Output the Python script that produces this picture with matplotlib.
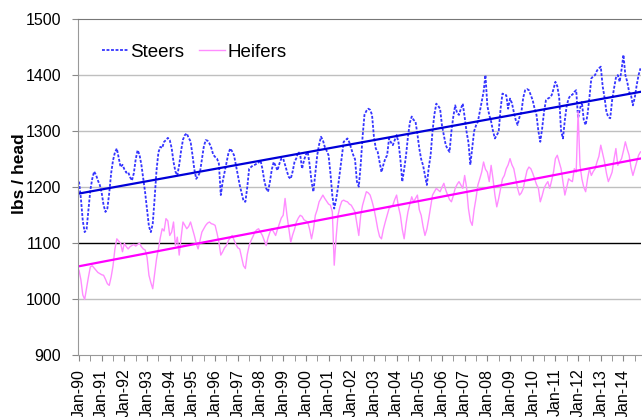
import numpy as np
import matplotlib
matplotlib.use('Agg')
import matplotlib.pyplot as plt

plt.rcParams['font.family'] = ['Liberation Sans', 'DejaVu Sans']

# Monthly average live weights, Jan-1990 .. Oct-2014 (lbs / head)
steers = [
    1210, 1180, 1140, 1120, 1125, 1160, 1195, 1215, 1228, 1222, 1212, 1204,  # 1990
    1190, 1168, 1156, 1162, 1190, 1225, 1248, 1262, 1269, 1252, 1236, 1240,  # 1991
    1232, 1226, 1227, 1218, 1212, 1225, 1250, 1266, 1258, 1240, 1215, 1190,  # 1992
    1160, 1130, 1120, 1135, 1180, 1230, 1262, 1272, 1270, 1281, 1284, 1288,  # 1993
    1284, 1270, 1245, 1228, 1221, 1240, 1265, 1285, 1293, 1296, 1288, 1282,  # 1994
    1258, 1232, 1215, 1220, 1227, 1250, 1272, 1284, 1283, 1278, 1270, 1258,  # 1995
    1254, 1251, 1242, 1186, 1210, 1227, 1245, 1260, 1269, 1264, 1257, 1240,  # 1996
    1222, 1204, 1190, 1176, 1174, 1200, 1233, 1236, 1239, 1240, 1242, 1244,  # 1997
    1248, 1233, 1212, 1198, 1192, 1210, 1232, 1245, 1238, 1230, 1242, 1251,  # 1998
    1251, 1240, 1228, 1218, 1215, 1228, 1245, 1252, 1263, 1258, 1233, 1248,  # 1999
    1258, 1263, 1240, 1210, 1192, 1225, 1257, 1276, 1290, 1284, 1272, 1265,  # 2000
    1257, 1225, 1185, 1162, 1178, 1200, 1227, 1255, 1281, 1284, 1287, 1280,  # 2001
    1269, 1258, 1250, 1210, 1201, 1240, 1290, 1329, 1336, 1340, 1338, 1329,  # 2002
    1290, 1269, 1263, 1245, 1227, 1240, 1251, 1257, 1287, 1280, 1275, 1284,  # 2003
    1293, 1280, 1250, 1210, 1232, 1257, 1290, 1315, 1326, 1320, 1317, 1295,  # 2004
    1269, 1250, 1239, 1222, 1204, 1235, 1257, 1300, 1330, 1349, 1345, 1340,  # 2005
    1310, 1293, 1275, 1268, 1263, 1300, 1326, 1346, 1332, 1329, 1340, 1349,  # 2006
    1325, 1299, 1280, 1240, 1270, 1300, 1310, 1317, 1335, 1352, 1370, 1400,  # 2007
    1345, 1329, 1317, 1300, 1287, 1293, 1299, 1340, 1367, 1365, 1364, 1340,  # 2008
    1358, 1350, 1334, 1320, 1311, 1325, 1334, 1360, 1373, 1375, 1373, 1364,  # 2009
    1355, 1340, 1329, 1300, 1281, 1305, 1335, 1355, 1358, 1360, 1364, 1375,  # 2010
    1388, 1380, 1360, 1300, 1287, 1320, 1346, 1358, 1364, 1365, 1370, 1373,  # 2011
    1323, 1340, 1352, 1320, 1311, 1330, 1360, 1394, 1398, 1400, 1408, 1412,  # 2012
    1415, 1380, 1360, 1334, 1325, 1323, 1355, 1376, 1395, 1400, 1388, 1410,  # 2013
    1436, 1400, 1388, 1370, 1364, 1346, 1360, 1382, 1400, 1412,              # 2014
]

heifers = [
    1052, 1035, 1008, 1000, 1020, 1040, 1058, 1060, 1056, 1052, 1048, 1046,  # 1990
    1044, 1043, 1036, 1028, 1025, 1040, 1060, 1090, 1108, 1104, 1100, 1085,  # 1991
    1100, 1094, 1090, 1094, 1096, 1098, 1095, 1098, 1100, 1094, 1090, 1088,  # 1992
    1075, 1043, 1030, 1019, 1045, 1072, 1090, 1110, 1126, 1122, 1144, 1140,  # 1993
    1114, 1120, 1138, 1096, 1111, 1079, 1110, 1138, 1132, 1126, 1130, 1138,  # 1994
    1126, 1114, 1100, 1090, 1105, 1120, 1126, 1132, 1136, 1138, 1135, 1134,  # 1995
    1132, 1118, 1102, 1079, 1085, 1092, 1096, 1105, 1110, 1114, 1106, 1098,  # 1996
    1092, 1090, 1075, 1060, 1055, 1080, 1096, 1105, 1112, 1120, 1124, 1126,  # 1997
    1120, 1114, 1105, 1096, 1110, 1120, 1126, 1120, 1114, 1125, 1135, 1145,  # 1998
    1150, 1180, 1150, 1126, 1102, 1115, 1125, 1138, 1145, 1150, 1148, 1142,  # 1999
    1140, 1138, 1125, 1108, 1125, 1150, 1160, 1174, 1180, 1186, 1180, 1175,  # 2000
    1170, 1168, 1156, 1061, 1110, 1150, 1165, 1175, 1177, 1175, 1174, 1170,  # 2001
    1168, 1162, 1156, 1135, 1114, 1150, 1168, 1180, 1192, 1190, 1186, 1175,  # 2002
    1162, 1145, 1126, 1112, 1108, 1125, 1138, 1150, 1162, 1165, 1168, 1178,  # 2003
    1186, 1165, 1150, 1125, 1108, 1135, 1156, 1170, 1183, 1174, 1180, 1186,  # 2004
    1160, 1150, 1130, 1114, 1125, 1144, 1165, 1186, 1192, 1198, 1195, 1192,  # 2005
    1200, 1207, 1195, 1186, 1178, 1174, 1185, 1198, 1205, 1210, 1204, 1198,  # 2006
    1221, 1200, 1162, 1140, 1132, 1160, 1180, 1204, 1215, 1227, 1245, 1232,  # 2007
    1227, 1210, 1239, 1215, 1186, 1165, 1180, 1198, 1215, 1221, 1233, 1240,  # 2008
    1251, 1240, 1233, 1215, 1198, 1186, 1190, 1198, 1215, 1230, 1236, 1233,  # 2009
    1225, 1215, 1205, 1198, 1174, 1185, 1198, 1205, 1210, 1198, 1212, 1227,  # 2010
    1251, 1257, 1245, 1233, 1210, 1186, 1200, 1215, 1212, 1210, 1233, 1227,  # 2011
    1335, 1240, 1215, 1200, 1192, 1215, 1233, 1221, 1228, 1233, 1245, 1255,  # 2012
    1275, 1260, 1245, 1225, 1210, 1218, 1227, 1250, 1269, 1239, 1245, 1251,  # 2013
    1265, 1281, 1268, 1257, 1235, 1221, 1233, 1245, 1257, 1263,              # 2014
]

year_labels = ['Jan-90', 'Jan-91', 'Jan-92', 'Jan-93', 'Jan-94', 'Jan-95',
               'Jan-96', 'Jan-97', 'Jan-98', 'Jan-99', 'Jan-00', 'Jan-01',
               'Jan-02', 'Jan-03', 'Jan-04', 'Jan-05', 'Jan-06', 'Jan-07',
               'Jan-08', 'Jan-09', 'Jan-10', 'Jan-11', 'Jan-12', 'Jan-13',
               'Jan-14']

months = np.arange(len(steers))

# linear trend lines
st_fit = np.polyfit(months, steers, 1)
hf_fit = np.polyfit(months, heifers, 1)

fig = plt.figure(figsize=(6.42, 4.17), dpi=100)
ax = fig.add_axes([0.121, 0.1475, 0.8775, 0.807])

ax.plot(months, steers, color='#3535ff', lw=1.3, ls=(0, (1.6, 0.9)), label='Steers')
ax.plot(months, heifers, color='#ff8cff', lw=1.0, label='Heifers')
ax.plot(months, np.polyval(st_fit, months), color='#0000d8', lw=1.6)
ax.plot(months, np.polyval(hf_fit, months), color='#ff00ff', lw=1.6)

# gridlines (1100 drawn black like the original)
for v in [1000, 1200, 1300, 1400]:
    ax.axhline(v, color='#bfbfbf', lw=1.0, zorder=0)
ax.axhline(1100, color='black', lw=1.0, zorder=0)

ax.set_ylim(900, 1500)
ax.set_xlim(-0.7, len(steers) - 0.7)
ax.set_yticks(range(900, 1501, 100))
ax.set_xticks(np.arange(0, len(steers), 12))
ax.set_xticklabels(year_labels, rotation=90)
ax.set_xticks(np.arange(6, len(steers), 12), minor=True)

ax.tick_params(axis='y', direction='out', length=4.5, color='#888888', labelsize=11.5, pad=7.5)
ax.tick_params(axis='x', which='both', direction='out', length=4, color='#888888', labelsize=11.5, pad=5.5)

for s in ['left', 'bottom']:
    ax.spines[s].set_color('#999999')
ax.spines['top'].set_color('#777777')
ax.spines['right'].set_visible(False)

ax.set_ylabel('lbs / head', fontsize=12.5, fontweight='bold')
ax.yaxis.set_label_coords(-0.09, 0.539)

ax.legend(loc='upper left', bbox_to_anchor=(0.029, 0.949), ncol=2, frameon=False,
          fontsize=13.5, handlelength=1.4, handletextpad=0.12, columnspacing=0.8,
          borderaxespad=0)

fig.savefig('out.png', dpi=100)
